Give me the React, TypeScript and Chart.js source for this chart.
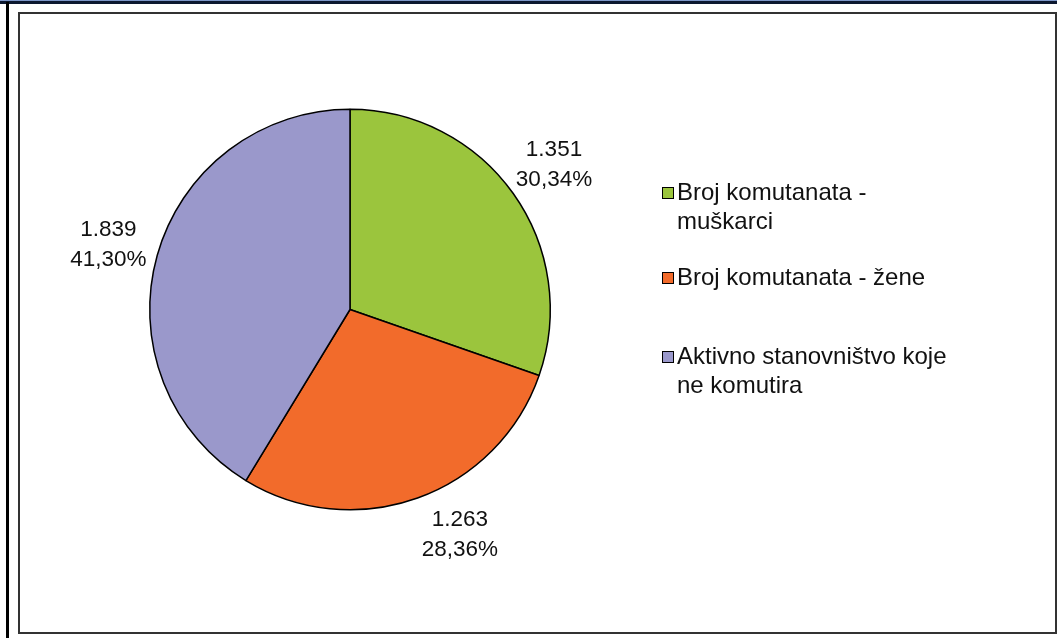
import React, { useEffect, useRef } from 'react';
import { Chart, registerables } from 'chart.js';

Chart.register(...registerables);

const categories = [
  'Broj komutanata - muškarci',
  'Broj komutanata - žene',
  'Aktivno stanovništvo koje ne komutira',
];
const values = [1351, 1263, 1839];
const colors = ['#9BC53D', '#F26B2B', '#9A98CB'];

const FONT = '"Liberation Sans", Arial, sans-serif';

const fmtThousands = (v: number) => String(v).replace(/\B(?=(\d{3})+(?!\d))/g, '.');
const fmtPct = (p: number) => p.toFixed(2).replace('.', ',') + '%';

const sliceLabels = {
  id: 'sliceLabels',
  afterDatasetsDraw(chart: any, _args: any, opts: any) {
    const ctx = chart.ctx;
    const meta = chart.getDatasetMeta(0);
    const data = chart.data.datasets[0].data as number[];
    const total = data.reduce((a, b) => a + b, 0);
    ctx.save();
    ctx.font = `${opts.size}px ${FONT}`;
    ctx.fillStyle = opts.color;
    ctx.textAlign = 'center';
    ctx.textBaseline = 'middle';
    meta.data.forEach((arc: any, i: number) => {
      const p = arc.getProps(['x', 'y', 'startAngle', 'endAngle', 'outerRadius'], true);
      const mid = (p.startAngle + p.endAngle) / 2 + ((opts.angleOffsets[i] || 0) * Math.PI) / 180;
      const r = p.outerRadius + opts.offset;
      const cx = p.x + Math.cos(mid) * r;
      const cy = p.y + Math.sin(mid) * r;
      const lines = [fmtThousands(data[i]), fmtPct((data[i] / total) * 100)];
      lines.forEach((t, j) => ctx.fillText(t, cx, cy + (j - (lines.length - 1) / 2) * opts.lineHeight));
    });
    ctx.restore();
  },
};

const sideLegend = {
  id: 'sideLegend',
  afterDraw(chart: any, _args: any, opts: any) {
    const ctx = chart.ctx;
    const labels = chart.data.labels as string[];
    const bg = chart.data.datasets[0].backgroundColor as string[];
    ctx.save();
    ctx.font = `${opts.size}px ${FONT}`;
    ctx.textAlign = 'left';
    ctx.textBaseline = 'middle';
    labels.forEach((label, i) => {
      const words = label.split(' ');
      const lines: string[] = [];
      let cur = '';
      words.forEach((w) => {
        const test = cur ? cur + ' ' + w : w;
        if (cur && ctx.measureText(test).width > opts.maxWidth) {
          lines.push(cur);
          cur = w;
        } else cur = test;
      });
      if (cur) lines.push(cur);
      const y0 = opts.tops[i];
      const s = opts.box;
      ctx.fillStyle = bg[i];
      ctx.fillRect(opts.x, y0 - s / 2, s, s);
      ctx.strokeStyle = '#000';
      ctx.lineWidth = 1;
      ctx.strokeRect(opts.x + 0.5, y0 - s / 2 + 0.5, s - 1, s - 1);
      ctx.fillStyle = opts.color;
      lines.forEach((t, j) => ctx.fillText(t, opts.textX, y0 + j * opts.lineHeight));
    });
    ctx.restore();
  },
};

export default function App() {
  const ref = useRef<HTMLCanvasElement | null>(null);

  useEffect(() => {
    if (!ref.current) return;
    const chart = new Chart(ref.current, {
      type: 'pie',
      data: {
        labels: categories,
        datasets: [
          {
            data: values,
            backgroundColor: colors,
            borderColor: '#000',
            borderWidth: 1.5,
          },
        ],
      },
      options: {
        responsive: false,
        animation: false,
        events: [],
        layout: { padding: { left: 149, right: 506, top: 108, bottom: 127 } },
        plugins: {
          legend: { display: false },
          tooltip: { enabled: false },
          sliceLabels: { size: 22.5, color: '#111', offset: 50, lineHeight: 30, angleOffsets: [0, -6.3, -0.6] },
          sideLegend: {
            size: 24,
            color: '#111',
            x: 662,
            textX: 677,
            box: 12,
            tops: [193, 278, 357],
            lineHeight: 29,
            maxWidth: 280,
          },
        } as any,
      },
      plugins: [sliceLabels, sideLegend],
    });
    return () => chart.destroy();
  }, []);

  return (
    <div style={{ position: 'fixed', left: 0, top: 0, width: 1057, height: 638, background: '#fff', overflow: 'hidden' }}>
      <div style={{ position: 'absolute', left: 0, top: 0, width: 1057, height: 1, background: '#7d97c9' }} />
      <div style={{ position: 'absolute', left: 0, top: 1, width: 1057, height: 3, background: '#0c1830' }} />
      <div style={{ position: 'absolute', left: 6, top: 2, width: 3, height: 636, background: '#000' }} />
      <div
        style={{
          position: 'absolute',
          left: 18,
          top: 12,
          width: 1039,
          height: 622,
          boxSizing: 'border-box',
          border: '2px solid #333',
        }}
      />
      <canvas ref={ref} width={1057} height={638} style={{ position: 'absolute', left: 0, top: 0 }} />
    </div>
  );
}
